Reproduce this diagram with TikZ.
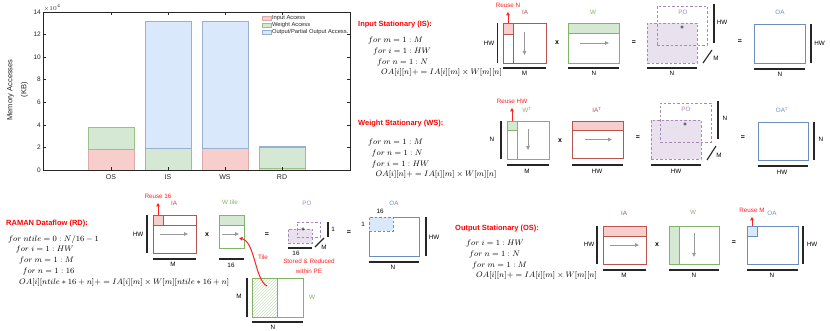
\documentclass[tikz,border=0pt]{standalone}
\usepackage{amsmath, amssymb}
\usepackage{fontspec}
\setmainfont{Liberation Sans}
\usepackage{tikz}
\usetikzlibrary{arrows.meta, calc, patterns}
\usepackage{xcolor}

\definecolor{iaS}{HTML}{B85450}
\definecolor{iaF}{HTML}{F8CECC}
\definecolor{wtS}{HTML}{82B366}
\definecolor{wtF}{HTML}{D5E8D4}
\definecolor{oaS}{HTML}{6C8EBF}
\definecolor{oaF}{HTML}{DAE8FC}
\definecolor{poS}{HTML}{A68BB8}
\definecolor{poF}{HTML}{EAE1EF}
\definecolor{reuseC}{HTML}{FF2020}
\definecolor{flowC}{HTML}{999999}
\definecolor{axisC}{HTML}{262626}

\begin{document}
\begin{tikzpicture}[x=1pt, y=-1pt,
    matbox/.style={draw, line width=0.8pt, inner sep=0pt, outer sep=0pt, anchor=north west},
    pobox/.style={matbox, draw=poS, dash pattern=on 2.5pt off 2pt},
    dimline/.style={line width=1.1pt, black!85},
    lbl/.style={font=\fontsize{6.3}{7}\selectfont, inner sep=0.5pt},
    optxt/.style={font=\bfseries\fontsize{7}{8}\selectfont, inner sep=0pt},
    headtxt/.style={font=\bfseries\fontsize{7.5}{9}\selectfont, text=red, anchor=west, inner sep=0pt},
    codetxt/.style={font=\fontsize{8}{10.7}\selectfont, align=left, anchor=north west, inner sep=0pt},
    flowarrow/.style={flowC, line width=0.8pt, -{Triangle[length=4pt, width=3.5pt]}},
    reusearrow/.style={reuseC, line width=1pt, shorten >=4pt, -{Triangle[length=3.5pt, width=3.5pt]}},
    ticklbl/.style={font=\fontsize{6.5}{7}\selectfont, text=axisC, inner sep=0.5pt}]
\useasboundingbox (0,0) rectangle (830,331);

% Grafico a barre
\begin{scope}[shift={(43,170)}, y=11.3pt]
  \foreach \c/\a/\b/\o in {68/1.88/1.87/0.07, 125/0/1.9/11.3, 182/1.9/0/11.3, 239/0.12/1.9/0.07}{
    \pgfmathsetmacro{\ab}{\a+\b}
    \pgfmathsetmacro{\abo}{\a+\b+\o}
    \draw[iaS!50, fill=iaF] (\c-23,0) rectangle (\c+23,\a);
    \draw[wtS!80, fill=wtF] (\c-23,\a) rectangle (\c+23,\ab);
    \draw[oaS!70, fill=oaF] (\c-23,\ab) rectangle (\c+23,\abo);
  }
  \draw[axisC, line width=0.5pt] (0,0) rectangle (307,14);
  \foreach \v in {0,2,...,14}{
    \draw[axisC, line width=0.4pt] (0,\v) -- (3,\v) (307,\v) -- (304,\v);
    \node[ticklbl, anchor=east] (yt\v) at (-1.5,\v) {\v};
  }
  \foreach \c/\t in {68/OS, 125/IS, 182/WS, 239/RD}{
    \draw[axisC, line width=0.4pt] (\c,0) -- (\c,0.27) (\c,14) -- (\c,13.73);
    \node[ticklbl, anchor=north, font=\fontsize{7}{8}\selectfont] (xt\t) at (\c,-0.35) {\t};
  }
  \node[ticklbl, anchor=south west] (yexp) at (0,14) {$\times10^{4}$};
  \node[rotate=90, align=center, font=\fontsize{7.5}{14}\selectfont, text=axisC] (ylab) at (-25.5,7.08) {Memory Accesses\\(KB)};

  % Legenda
  \draw[iaS!50, fill=iaF] (219,13.25) rectangle (228,13.65);
  \node[ticklbl, anchor=west, font=\fontsize{5.8}{6}\selectfont] (legIA) at (228.3,13.45) {Input Access};
  \draw[wtS!80, fill=wtF] (219,12.6) rectangle (228,13);
  \node[ticklbl, anchor=west, font=\fontsize{5.8}{6}\selectfont] (legW) at (228.3,12.8) {Weight Access};
  \draw[oaS!70, fill=oaF] (219,11.99) rectangle (228,12.39);
  \node[ticklbl, anchor=west, font=\fontsize{5.8}{6}\selectfont] (legOA) at (228.3,12.19) {Output/Partial Output Access.};
\end{scope}

% Input Stationary
\node[headtxt] (isHead) at (358,25) {Input Stationary (IS):};
\node[codetxt] (isCode) at (368,37) {$for\ m=1:M$\\ \hspace*{5pt}$for\ i=1:HW$\\ \hspace*{9pt}$for\ n=1:N$\\ \hspace*{13pt}$OA[i][n]+=IA[i][m]\times W[m][n]$};
\node[matbox, draw=iaS, minimum width=43pt, minimum height=40pt] (isIA) at (503,23) {};
\node[matbox, draw=iaS, fill=iaF, minimum width=10pt, minimum height=11pt] (isIAr) at (503,23) {};
\draw[iaS, line width=0.8pt] (isIAr.north east) -- (isIAr.north east |- isIA.south);
\draw[flowarrow] ($(isIA.north)+(0,9)$) -- ($(isIA.south)+(0,-8)$);
\node[lbl, text=reuseC] (isReuse) at (508,5) {Reuse N};
\draw[reusearrow] (isIAr.north) -- (isReuse.south);
\node[lbl, text=iaS] (isIAl) at (525,12) {IA};
\draw[dimline] (497.5,23) -- (497.5,63);
\node[lbl] (isHW1) at (489,43) {HW};
\draw[dimline] (503,68) -- (546,68);
\node[lbl] (isM1) at (524.5,73.5) {M};
\node[optxt] (isX) at (557,43) {x};
\node[matbox, draw=wtS, minimum width=51pt, minimum height=40pt] (isW) at (568,23) {};
\node[matbox, draw=wtS, fill=wtF, minimum width=51pt, minimum height=10pt] (isWr) at (568,23) {};
\draw[flowarrow] ($(isW.west)+(12,0)$) -- ($(isW.east)+(-10,0)$);
\node[lbl, text=wtS] (isWl) at (593,12) {W};
\draw[dimline] (568,68) -- (619,68);
\node[lbl] (isN1) at (594,73.5) {N};
\node[optxt] (isEq1) at (634,43) {=};
\node[pobox, fill=poF, minimum width=50pt, minimum height=40pt] (isPO) at (647,23) {};
\node[pobox, minimum width=50pt, minimum height=39pt] (isPOb) at (657,6) {};
\node[optxt, font=\bfseries\fontsize{6}{7}\selectfont] (isPlus) at (682,28) {+};
\node[lbl, text=poS] (isPOl) at (683,12) {PO};
\draw[dimline] (714,4) -- (714,43);
\node[lbl] (isHW2) at (722,22) {HW};
\draw[dimline] (703,63) -- (712,50);
\node[lbl] (isM2) at (716,58) {M};
\draw[dimline] (647,68) -- (697,68);
\node[lbl] (isN2) at (672,73.5) {N};
\node[optxt] (isEq2) at (740,42) {=};
\node[matbox, draw=oaS, minimum width=51pt, minimum height=39pt] (isOA) at (754,24) {};
\node[lbl, text=oaS] (isOAl) at (780,12) {OA};
\draw[dimline] (811,24) -- (811,63);
\node[lbl] (isHW3) at (819.5,43) {HW};
\draw[dimline] (754,69) -- (805,69);
\node[lbl] (isN3) at (780,74.5) {N};

% Weight Stationary
\node[headtxt] (wsHead) at (358,124) {Weight Stationary (WS):};
\node[codetxt] (wsCode) at (368,139) {$for\ m=1:M$\\ \hspace*{3.5pt}$for\ n=1:N$\\ \hspace*{3.5pt}$for\ i=1:HW$\\ \hspace*{7.5pt}$OA[i][n]+=IA[i][m]\times W[m][n]$};
\node[matbox, draw=wtS, minimum width=42pt, minimum height=38pt] (wsW) at (507,121) {};
\node[matbox, draw=wtS, fill=wtF, minimum width=10pt, minimum height=9pt] (wsWr) at (507,121) {};
\draw[wtS, line width=0.8pt] (wsWr.north east) -- (wsWr.north east |- wsW.south);
\draw[flowarrow] ($(wsW.north)+(0,8)$) -- ($(wsW.south)+(0,-9)$);
\node[lbl, text=reuseC] (wsReuse) at (512,101) {Reuse HW};
\draw[reusearrow] (wsWr.north) -- (wsReuse.south);
\node[lbl, text=wtS] (wsWl) at (527,110) {W\textsuperscript{T}};
\draw[dimline] (501,121) -- (501,159);
\node[lbl] (wsN1) at (492,139) {N};
\draw[dimline] (507,165) -- (549,165);
\node[lbl] (wsM1) at (527,171) {M};
\node[optxt] (wsX) at (560,141) {x};
\node[matbox, draw=iaS, minimum width=51pt, minimum height=37pt] (wsIA) at (572,121) {};
\node[matbox, draw=iaS, fill=iaF, minimum width=51pt, minimum height=9pt] (wsIAr) at (572,121) {};
\draw[flowarrow] ($(wsIA.west)+(13,0)$) -- ($(wsIA.east)+(-11,0)$);
\node[lbl, text=iaS] (wsIAl) at (597,110) {IA\textsuperscript{T}};
\draw[dimline] (572,165) -- (623,165);
\node[lbl] (wsHW1) at (597,171) {HW};
\node[optxt] (wsEq1) at (638,138) {=};
\node[pobox, fill=poF, minimum width=50pt, minimum height=39pt] (wsPO) at (651,120) {};
\node[pobox, minimum width=51pt, minimum height=39pt] (wsPOb) at (660,103) {};
\node[optxt, font=\bfseries\fontsize{6}{7}\selectfont] (wsPlus) at (685,125) {+};
\node[lbl, text=poS] (wsPOl) at (686,109) {PO};
\draw[dimline] (718,101) -- (718,139);
\node[lbl] (wsN2) at (725,118) {N};
\draw[dimline] (707,160) -- (716,146);
\node[lbl] (wsM2) at (719,155) {M};
\draw[dimline] (651,165) -- (701,165);
\node[lbl] (wsHW2) at (676,171) {HW};
\node[optxt] (wsEq2) at (743,138) {=};
\node[matbox, draw=oaS, minimum width=50pt, minimum height=38pt] (wsOA) at (758,122) {};
\node[lbl, text=oaS] (wsOAl) at (782,110) {OA\textsuperscript{T}};
\draw[dimline] (814,122) -- (814,160);
\node[lbl] (wsN3) at (821,139) {N};
\draw[dimline] (758,166) -- (808,166);
\node[lbl] (wsHW3) at (782,172) {HW};

% RAMAN Dataflow
\node[headtxt] (rdHead) at (6,224) {RAMAN Dataflow (RD):};
\node[codetxt] (rdCode) at (8,235) {$for\ ntile=0:N/16-1$\\ \hspace*{7.7pt}$for\ i=1:HW$\\ \hspace*{11pt}$for\ m=1:M$\\ \hspace*{14.4pt}$for\ n=1:16$\\ \hspace*{11pt}$OA[i][ntile*16+n]+=IA[i][m]\times W[m][ntile*16+n]$};
\node[matbox, draw=iaS, minimum width=43pt, minimum height=38pt] (rdIA) at (153,215) {};
\node[matbox, draw=iaS, fill=iaF, minimum width=10pt, minimum height=10pt] (rdIAr) at (153,215) {};
\draw[iaS, line width=0.8pt] (rdIAr.south east) -- (rdIAr.south east -| rdIA.east);
\draw[flowarrow] ($(rdIA.west)+(7,0)$) -- ($(rdIA.east)+(-8,0)$);
\node[lbl, text=reuseC] (rdReuse) at (158,196) {Reuse 16};
\draw[reusearrow] (rdIAr.north) -- (rdReuse.south);
\node[lbl, text=iaS] (rdIAl) at (174,203) {IA};
\draw[dimline] (147,215) -- (147,253);
\node[lbl] (rdHW1) at (138,234) {HW};
\draw[dimline] (153,259) -- (196,259);
\node[lbl] (rdM1) at (173,264.5) {M};
\node[optxt] (rdX) at (207,235) {x};
\node[matbox, draw=wtS, minimum width=25pt, minimum height=33pt] (rdWt) at (219,215) {};
\node[matbox, draw=wtS, fill=wtF, minimum width=25pt, minimum height=10pt] (rdWtr) at (219,215) {};
\draw[flowarrow] ($(rdWt.south west)+(3,-14)$) -- ($(rdWt.south east)+(-5,-14)$);
\node[lbl, text=wtS] (rdWtl) at (230,202) {W tile};
\draw[dimline] (219,259) -- (244,259);
\node[lbl] (rd16a) at (231,265) {16};
\node[optxt] (rdEq1) at (267,235) {=};
\node[matbox, draw=wtS, minimum width=51pt, minimum height=39pt] (rdW) at (252,278) {};
\node[matbox, draw=wtS, pattern=north east lines, pattern color=wtS!40, minimum width=25pt, minimum height=39pt] (rdWh) at (252,278) {};
\node[lbl, text=wtS] (rdWl) at (312,297) {W};
\draw[dimline] (247,278) -- (247,317);
\node[lbl] (rdM2) at (239,296) {M};
\draw[dimline] (252,322) -- (303,322);
\node[lbl] (rdN1) at (273,327.5) {N};
\coordinate (rdTileSrc) at (267,286);
\coordinate (rdTileDst) at (239,238);
\draw[reusearrow, shorten >=0pt] (rdTileSrc) .. controls (255,280) and (255,242) .. (rdTileDst);
\node[lbl, text=reuseC] (rdTile) at (263,257) {Tile};
\node[pobox, fill=poF, minimum width=24pt, minimum height=14pt] (rdPO) at (288,229) {};
\node[pobox, minimum width=23pt, minimum height=15pt] (rdPOb) at (297,222) {};
\node[optxt, font=\bfseries\fontsize{6}{7}\selectfont] (rdPlus) at (303,230) {+};
\node[lbl, text=poS] (rdPOl) at (307,203) {PO};
\draw[dimline] (328,222) -- (328,237);
\node[lbl] (rd1a) at (333,229) {1};
\draw[dimline] (315,247) -- (324,238);
\node[lbl] (rdM3) at (324,247) {M};
\draw[dimline] (288,248) -- (312,248);
\node[lbl] (rd16b) at (296,253) {16};
\node[lbl, text=reuseC, align=center, font=\fontsize{6.3}{10}\selectfont] (rdStored) at (309,266) {Stored \& Reduced\\within PE};
\node[optxt] (rdEq2) at (349,233) {=};
\node[matbox, draw=oaS, minimum width=50pt, minimum height=39pt] (rdOA) at (369,217) {};
\node[matbox, draw=oaS, fill=oaF, dash pattern=on 2.5pt off 2pt, minimum width=24pt, minimum height=14pt] (rdOAt) at (369,217) {};
\node[lbl] (rd16c) at (380,211) {16};
\node[lbl] (rd1b) at (363,224) {1};
\node[lbl, text=oaS] (rdOAl) at (394,203) {OA};
\draw[dimline] (426,217) -- (426,256);
\node[lbl] (rdHW2) at (434,237) {HW};
\draw[dimline] (369,262) -- (419,262);
\node[lbl] (rdN2) at (393,267) {N};

% Output Stationary
\node[headtxt] (osHead) at (455,229) {Output Stationary (OS):};
\node[codetxt] (osCode) at (466,240) {$for\ i=1:HW$\\ \hspace*{3pt}$for\ n=1:N$\\ \hspace*{6pt}$for\ m=1:M$\\ \hspace*{10pt}$OA[i][n]+=IA[i][m]\times W[m][n]$};
\node[matbox, draw=iaS, minimum width=43pt, minimum height=38pt] (osIA) at (603,226) {};
\node[matbox, draw=iaS, fill=iaF, minimum width=43pt, minimum height=10pt] (osIAr) at (603,226) {};
\draw[flowarrow] ($(osIA.west)+(7,0)$) -- ($(osIA.east)+(-7,0)$);
\node[lbl, text=iaS] (osIAl) at (624,213) {IA};
\draw[dimline] (597,226) -- (597,264);
\node[lbl] (osHW1) at (589,244) {HW};
\draw[dimline] (603,270) -- (646,270);
\node[lbl] (osM) at (624,275) {M};
\node[optxt] (osX) at (657,245) {x};
\node[matbox, draw=wtS, minimum width=50pt, minimum height=38pt] (osW) at (669,226) {};
\node[matbox, draw=wtS, fill=wtF, minimum width=10pt, minimum height=38pt] (osWc) at (669,226) {};
\draw[flowarrow] ($(osW.north)+(0,7)$) -- ($(osW.south)+(0,-7)$);
\node[lbl, text=wtS] (osWl) at (693,212) {W};
\draw[dimline] (669,270) -- (719,270);
\node[lbl] (osN1) at (694,275) {N};
\node[optxt] (osEq) at (734,243) {=};
\node[matbox, draw=oaS, minimum width=51pt, minimum height=38pt] (osOA) at (747,226) {};
\node[matbox, draw=oaS, fill=oaF, minimum width=10pt, minimum height=10pt] (osOAr) at (747,226) {};
\node[lbl, text=reuseC] (osReuse) at (752,210) {Reuse M};
\draw[reusearrow] (osOAr.north) -- (osReuse.south);
\node[lbl, text=oaS] (osOAl) at (772,213) {OA};
\draw[dimline] (803,226) -- (803,264);
\node[lbl] (osHW2) at (812,244) {HW};
\draw[dimline] (747,270) -- (798,270);
\node[lbl] (osN2) at (772,275) {N};
\end{tikzpicture}
\end{document}
